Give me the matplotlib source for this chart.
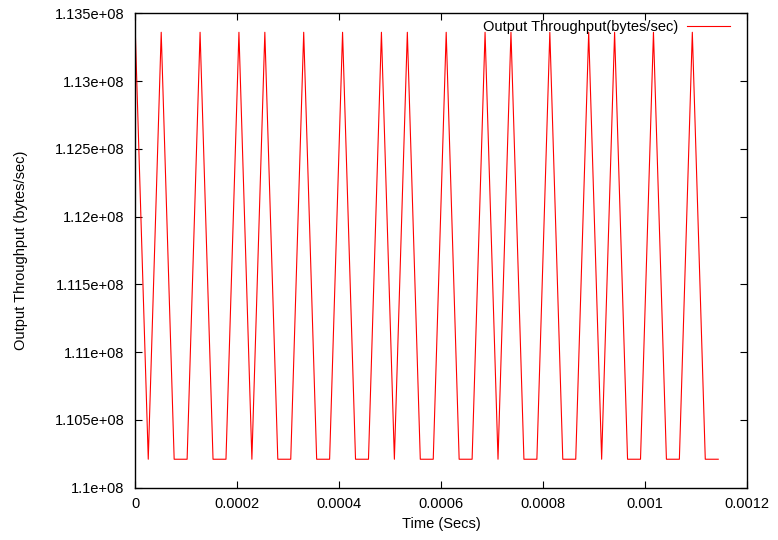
import numpy as np
import matplotlib
matplotlib.use("Agg")
import matplotlib.pyplot as plt
from matplotlib.ticker import FixedLocator, FuncFormatter

# Sample times in microseconds
time_us = [0.0, 25.4, 50.8, 76.2, 101.6, 127.0, 152.4, 177.8, 203.2, 228.6,
           254.0, 279.4, 304.8, 330.2, 355.6, 381.0, 406.4, 431.8, 457.2, 482.6,
           508.0, 533.4, 558.8, 584.2, 609.6, 635.0, 660.4, 685.8, 711.2, 736.6,
           762.0, 787.4, 812.8, 838.2, 863.6, 889.0, 914.4, 939.8, 965.2, 990.6,
           1016.0, 1041.4, 1066.8, 1092.2, 1117.6, 1143.0]

HI = 113360000
LO = 110210000
throughput = [HI, LO, HI, LO, LO, HI, LO, LO, HI, LO,
              HI, LO, LO, HI, LO, LO, HI, LO, LO, HI,
              LO, HI, LO, LO, HI, LO, LO, HI, LO, HI,
              LO, LO, HI, LO, LO, HI, LO, HI, LO, LO,
              HI, LO, LO, HI, LO, LO]

x_ticks = [0, 0.0002, 0.0004, 0.0006, 0.0008, 0.001, 0.0012]
y_ticks = [1.1e8, 1.105e8, 1.11e8, 1.115e8, 1.12e8, 1.125e8, 1.13e8, 1.135e8]

plt.rcParams['font.family'] = ['Liberation Sans', 'DejaVu Sans']
plt.rcParams['font.size'] = 10.5

W, H = 778, 540
fig = plt.figure(figsize=(W / 100, H / 100), dpi=100)
left, right, top, bottom = 135.3, 747.3, 13.3, 487.7
ax = fig.add_axes([left / W, 1 - bottom / H, (right - left) / W, (bottom - top) / H])

t = np.array(time_us) * 1e-6
ax.plot(t, throughput, color='#ff0000', linewidth=0.8,
        label='Output Throughput(bytes/sec)')

ax.set_xlim(0, 0.0012)
ax.set_ylim(1.1e8, 1.135e8)
ax.xaxis.set_major_locator(FixedLocator(x_ticks))
ax.yaxis.set_major_locator(FixedLocator(y_ticks))


def gfmt(v, pos=None):
    return '%g' % v


ax.xaxis.set_major_formatter(FuncFormatter(gfmt))
ax.yaxis.set_major_formatter(FuncFormatter(gfmt))

ax.tick_params(direction='in', length=5, width=0.8, top=True, right=True,
               labelsize=10.5, colors='black')
ax.tick_params(axis='x', pad=7)
ax.tick_params(axis='y', pad=8)
for sp in ax.spines.values():
    sp.set_linewidth(1.0)
    sp.set_color('black')

ax.set_xlabel('Time (Secs)', fontsize=10.5)
ax.set_ylabel('Output Throughput (bytes/sec)', fontsize=10.5)
ax.yaxis.set_label_coords(28 / W, 1 - 0.5 * (top + bottom) / H, transform=fig.transFigure)
ax.xaxis.set_label_coords(0.5 * (left + right) / W, 1 - 517 / H, transform=fig.transFigure)

ax.legend(loc='center right', bbox_to_anchor=(729.5 / W, 1 - 27.3 / H),
          bbox_transform=fig.transFigure, frameon=False, markerfirst=False,
          borderpad=0, borderaxespad=0, handlelength=2.9, handletextpad=0.6,
          fontsize=10.5)

fig.savefig('out.png', dpi=100)
